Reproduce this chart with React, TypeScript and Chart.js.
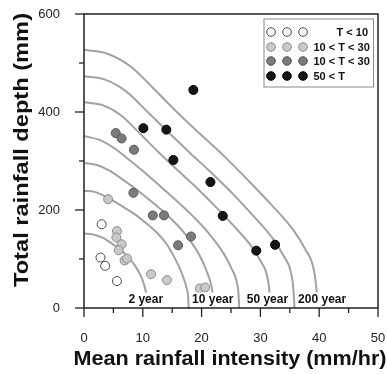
import React, { useEffect, useRef } from 'react';
import { Chart, registerables } from 'chart.js';

Chart.register(...registerables);

const FONT = '"Liberation Sans", Arial, Helvetica, sans-serif';

// Storm events: mean rainfall intensity (mm/hr) against total rainfall depth (mm)
const classLabels = ['T < 10', '10 < T < 30', '10 < T < 30', '50 < T'];

const intensityT10 = [3.0, 2.8, 3.6, 5.6];
const depthT10 = [171, 103, 86, 55];

const intensityT30a = [4.1, 5.6, 5.5, 6.4, 5.9, 6.9, 7.3, 11.4, 14.1, 19.7, 20.6];
const depthT30a = [222, 157, 144, 130, 118, 97, 101, 69, 57, 40, 42];

const intensityT30b = [5.4, 6.4, 8.5, 8.4, 11.7, 13.6, 16.0, 18.2];
const depthT30b = [357, 346, 323, 235, 189, 189, 128, 146];

const intensityT50 = [18.6, 10.1, 14.0, 15.2, 21.5, 23.6, 29.3, 32.5];
const depthT50 = [445, 367, 364, 302, 257, 188, 117, 129];

// Return-period isolines, [intensity, depth]
const curve1: [number, number][] = [
  [0, 152], [1.08, 151], [2.16, 148], [3.24, 143], [4.32, 135], [5.4, 126], [6.48, 116],
  [7.56, 103], [8.64, 87], [9.72, 64], [10.26, 46], [10.58, 29], [10.75, 17], [10.8, 0],
];
const curve2: [number, number][] = [
  [0, 239], [1.78, 237], [3.56, 228], [5.34, 216], [7.12, 203], [8.9, 189], [10.68, 172],
  [12.46, 153], [14.24, 127], [16.02, 88], [16.91, 62], [17.44, 41], [17.71, 23], [17.8, 0],
];
const curve3: [number, number][] = [
  [0, 296], [2.2, 292], [4.4, 280], [6.6, 262], [8.8, 243], [11.0, 222], [13.2, 200],
  [15.4, 175], [17.6, 145], [19.8, 104], [20.9, 74], [21.56, 50], [21.89, 27], [22.0, 0],
];
const curve4: [number, number][] = [
  [0, 351], [2.64, 343], [5.28, 325], [7.92, 300], [10.56, 274], [13.2, 246], [15.84, 218],
  [18.48, 188], [21.12, 154], [23.76, 111], [25.08, 81], [25.87, 58], [26.27, 30], [26.4, 0],
];
const curve5: [number, number][] = [
  [0, 420], [3.17, 414], [6.34, 393], [9.51, 356], [12.68, 318], [15.85, 282], [19.02, 247],
  [22.19, 209], [25.36, 169], [28.53, 125], [30.12, 94], [31.07, 69], [31.54, 34], [31.7, 0],
];
const curve6: [number, number][] = [
  [0, 473], [3.58, 466], [7.16, 442], [10.74, 401], [14.32, 359], [17.9, 318], [21.48, 278],
  [25.06, 236], [28.64, 190], [32.22, 140], [34.01, 105], [35.08, 78], [35.62, 38], [35.8, 0],
];
const curve7: [number, number][] = [
  [0, 527], [3.97, 519], [7.94, 493], [11.91, 447], [15.88, 399], [19.85, 354], [23.82, 310],
  [27.79, 262], [31.76, 212], [35.73, 157], [37.72, 118], [38.91, 87], [39.5, 42], [39.7, 0],
];
const curves = [curve1, curve2, curve3, curve4, curve5, curve6, curve7];

// Return-period captions along the intensity axis
const curveCaptions = ['2 year', '10 year', '50 year', '200 year'];
const curveCaptionX = [10.5, 21.9, 31.2, 40.5];

const xMajorTicks = [0, 10, 20, 30, 40, 50];
const xMinorTicks = [5, 15, 25, 35, 45];
const yMajorTicks = [0, 200, 400, 600];
const yMinorTicks = [100, 300, 500];

const xTitle = 'Mean rainfall intensity (mm/hr)';
const yTitle = 'Total rainfall depth (mm)';

const classStyles = [
  { fill: '#ffffff', stroke: '#4a4a4a' },
  { fill: '#c9c9c9', stroke: '#8a8a8a' },
  { fill: '#7b7b7b', stroke: '#555555' },
  { fill: '#161616', stroke: '#000000' },
];

const decorPlugin = {
  id: 'decor',
  afterDatasetsDraw(chart: any) {
    const { ctx, chartArea: a, scales } = chart;
    const xs = scales.x;
    const ys = scales.y;
    ctx.save();

    // captions on the isolines
    ctx.font = `bold 12px ${FONT}`;
    ctx.textAlign = 'center';
    ctx.textBaseline = 'alphabetic';
    curveCaptions.forEach((text, i) => {
      const px = xs.getPixelForValue(curveCaptionX[i]);
      const base = a.bottom - 5.5;
      const w = ctx.measureText(text).width;
      ctx.fillStyle = '#ffffff';
      ctx.fillRect(px - w / 2 - 1, base - 10, w + 2, a.bottom - base + 9);
      ctx.fillStyle = '#111111';
      ctx.fillText(text, px, base);
    });

    // plot frame
    ctx.strokeStyle = '#222222';
    ctx.lineWidth = 1.5;
    ctx.strokeRect(a.left, a.top, a.right - a.left, a.bottom - a.top);

    // tick marks
    ctx.lineWidth = 1.3;
    const tickX = (v: number, len: number) => {
      const p = xs.getPixelForValue(v);
      ctx.beginPath();
      ctx.moveTo(p, a.bottom);
      ctx.lineTo(p, a.bottom + len);
      ctx.stroke();
    };
    const tickY = (v: number, len: number) => {
      const p = ys.getPixelForValue(v);
      ctx.beginPath();
      ctx.moveTo(a.left, p);
      ctx.lineTo(a.left - len, p);
      ctx.stroke();
    };
    xMajorTicks.forEach((v) => tickX(v, 9));
    xMinorTicks.forEach((v) => tickX(v, 5));
    yMajorTicks.forEach((v) => tickY(v, 9));
    yMinorTicks.forEach((v) => tickY(v, 5));

    // legend box
    const bx = a.right - 114.5;
    const by = a.top + 4.5;
    const bw = 109.5;
    const bh = 68;
    ctx.fillStyle = '#ffffff';
    ctx.fillRect(bx, by, bw, bh);
    ctx.strokeStyle = '#8a8a8a';
    ctx.lineWidth = 1;
    ctx.strokeRect(bx + 0.5, by + 0.5, bw, bh);
    const rowY = [13.5, 28.5, 42.5, 57.5];
    const dotX = [7.5, 23.5, 39.5];
    ctx.font = `bold 11px ${FONT}`;
    ctx.textBaseline = 'middle';
    classLabels.forEach((label, i) => {
      const cy = by + rowY[i];
      dotX.forEach((dx) => {
        ctx.beginPath();
        ctx.arc(bx + dx, cy, 4.3, 0, Math.PI * 2);
        ctx.fillStyle = classStyles[i].fill;
        ctx.fill();
        ctx.lineWidth = 1;
        ctx.strokeStyle = classStyles[i].stroke;
        ctx.stroke();
      });
      ctx.fillStyle = '#111111';
      if (i === 0) {
        ctx.textAlign = 'right';
        ctx.fillText(label, bx + bw - 5, cy + 0.5);
      } else {
        ctx.textAlign = 'left';
        ctx.fillText(label, bx + 50, cy + 0.5);
      }
    });

    // axis titles
    ctx.fillStyle = '#111111';
    ctx.textAlign = 'center';
    ctx.textBaseline = 'middle';
    ctx.font = `bold 19.5px ${FONT}`;
    const drawTitle = (text: string, cx: number, cy: number, rot: number, target: number) => {
      const w = ctx.measureText(text).width;
      ctx.save();
      ctx.translate(cx, cy);
      ctx.rotate(rot);
      ctx.scale(target / w, 1);
      ctx.fillText(text, 0, 0);
      ctx.restore();
    };
    drawTitle(xTitle, (a.left + a.right) / 2 - 1, a.bottom + 52, 0, 313);
    drawTitle(yTitle, a.left - 61, a.top + 136, -Math.PI / 2, 274);

    ctx.restore();
  },
};

const clearPadding = (scale: any) => {
  scale.paddingLeft = 0;
  scale.paddingRight = 0;
  scale.paddingTop = 0;
  scale.paddingBottom = 0;
};

export default function App() {
  const canvasRef = useRef<HTMLCanvasElement | null>(null);

  useEffect(() => {
    document.body.style.margin = '0';
    const canvas = canvasRef.current;
    if (!canvas) return;

    const pointSets = [
      [intensityT10, depthT10],
      [intensityT30a, depthT30a],
      [intensityT30b, depthT30b],
      [intensityT50, depthT50],
    ].map(([xv, yv], i) => ({
      label: classLabels[i],
      data: xv.map((x, j) => ({ x, y: yv[j] })),
      showLine: false,
      pointRadius: 4.5,
      pointBackgroundColor: classStyles[i].fill,
      pointBorderColor: classStyles[i].stroke,
      pointBorderWidth: 1,
      order: 0,
    }));

    const curveSets = curves.map((c, i) => ({
      label: `isoline ${i + 1}`,
      data: c.map(([x, y]) => ({ x, y })),
      showLine: true,
      pointRadius: 0,
      borderColor: '#a2a2a2',
      borderWidth: 2,
      cubicInterpolationMode: 'monotone' as const,
      fill: false,
      order: 1,
    }));

    const tickFont = { family: FONT, size: 13 };

    const chart = new Chart(canvas, {
      type: 'scatter',
      data: { datasets: [...pointSets, ...curveSets] as any },
      options: {
        animation: false,
        responsive: false,
        layout: { padding: { top: 14, right: 9, left: 0, bottom: 0 } },
        plugins: { legend: { display: false }, tooltip: { enabled: false } },
        scales: {
          x: {
            type: 'linear',
            min: 0,
            max: 50,
            grid: { display: false },
            border: { display: false },
            ticks: { font: tickFont, color: '#222222', padding: 15 },
            afterBuildTicks: (scale: any) => {
              scale.ticks = xMajorTicks.map((value) => ({ value }));
            },
            afterFit: (scale: any) => {
              scale.height = 66;
              clearPadding(scale);
            },
          },
          y: {
            type: 'linear',
            min: 0,
            max: 600,
            grid: { display: false },
            border: { display: false },
            ticks: { font: tickFont, color: '#222222', padding: 16 },
            afterBuildTicks: (scale: any) => {
              scale.ticks = yMajorTicks.map((value) => ({ value }));
            },
            afterFit: (scale: any) => {
              scale.width = 84;
              clearPadding(scale);
            },
          },
        },
      },
      plugins: [decorPlugin],
    });

    return () => chart.destroy();
  }, []);

  return (
    <div style={{ width: 387, height: 374 }}>
      <canvas ref={canvasRef} width={387} height={374} />
    </div>
  );
}
